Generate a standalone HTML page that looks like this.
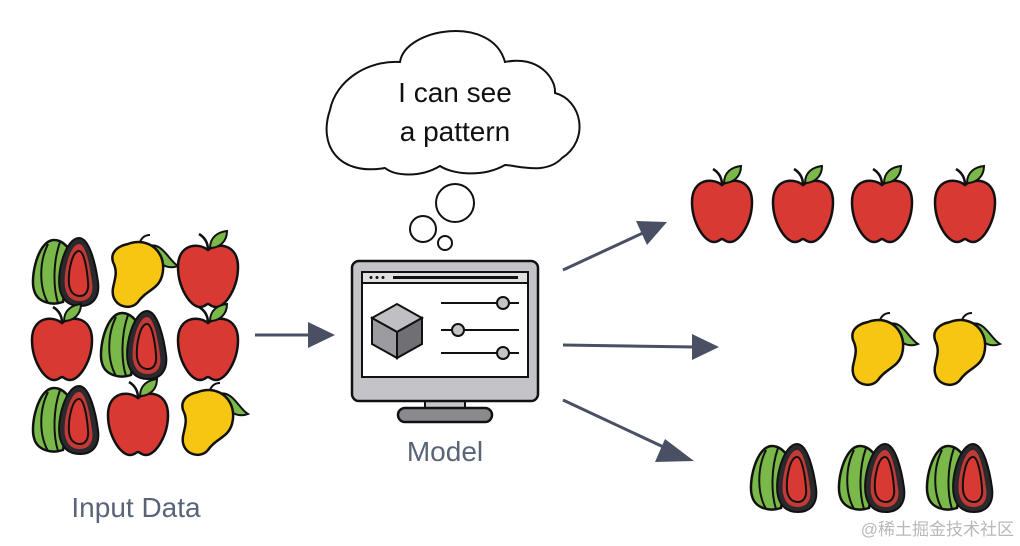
<!DOCTYPE html>
<html><head><meta charset="utf-8"><style>
html,body{margin:0;padding:0;background:#fff;}
svg{display:block;}
</style></head><body>
<svg width="1020" height="546" viewBox="0 0 1020 546" xmlns="http://www.w3.org/2000/svg">
<defs>
<g id="apple">
<path d="M0,-22 C-10,-30 -30,-28 -30,-5 C-30,15 -18,35 -8,35 C-3,35 -2,32 0,32 C2,32 3,35 8,35 C18,35 30,15 30,-5 C30,-28 10,-30 0,-22 Z" fill="#d83a33" stroke="#111" stroke-width="2.5"/>
<path d="M0,-22 C0,-30 -4,-35 -9,-38" fill="none" stroke="#111" stroke-width="2.5"/>
<path d="M2,-24 C2,-35 10,-40 19,-41 C19,-30 11,-24 2,-24Z" fill="#7bb84a" stroke="#111" stroke-width="2"/>
</g>
<g id="mango">
<path d="M10,-26 C25,-30 30,-12 40,-6 C30,-2 20,-8 15,-18Z" fill="#7bb84a" stroke="#111" stroke-width="2"/>
<path d="M-10,-28 C12,-36 30,-18 24,4 C20,18 8,18 0,30 C-8,40 -28,34 -25,16 C-23,6 -20,0 -25,-10 C-28,-20 -20,-26 -10,-28Z" fill="#f6c612" stroke="#111" stroke-width="2.5"/>
<path d="M2,-30 C4,-35 8,-37 12,-37" fill="none" stroke="#111" stroke-width="2"/>
</g>
<g id="avo">
<path d="M-12,-32 C-28,-32 -36,5 -32,18 C-29,30 -15,34 -3,30 L5,-20 C0,-28 -6,-32 -12,-32Z" fill="#7bb84a" stroke="#111" stroke-width="2.5"/>
<path d="M-18,-28 C-27,-10 -27,15 -18,31 M-6,-30 C-13,-10 -13,15 -8,31" fill="none" stroke="#111" stroke-width="2"/>
<path d="M13,-34 C0,-34 -10,0 -6,18 C-3,30 5,34 14,34 C27,34 34,25 32,10 C30,-5 24,-34 13,-34Z" fill="#2a2a2e" stroke="#111" stroke-width="2"/>
<path d="M13,-28 C4,-28 -3,0 -1,15 C1,25 6,29 14,29 C23,29 28,22 26,10 C24,-5 20,-28 13,-28Z" fill="#c23a35"/>
<path d="M13,-21 C6,-21 2,0 3,12 C4,20 8,24 14,24 C20,24 23,18 22,10 C21,-3 18,-21 13,-21Z" fill="#d83a33" stroke="#111" stroke-width="2"/>
</g>
</defs>

<use href="#avo" x="66" y="272"/>
<use href="#mango" x="138" y="272"/>
<use href="#apple" x="208" y="272"/>
<use href="#apple" x="62" y="345"/>
<use href="#avo" x="134" y="345"/>
<use href="#apple" x="208" y="345"/>
<use href="#avo" x="66" y="420"/>
<use href="#apple" x="138" y="420"/>
<use href="#mango" x="208" y="420"/>
<text x="136" y="517" font-family="Liberation Sans, sans-serif" font-size="28" fill="#5a6478" text-anchor="middle">Input Data</text>

<g stroke="#4a5064" stroke-width="3" fill="#4a5064">
<line x1="255" y1="335" x2="315" y2="335"/>
<polygon points="335,335 308,322 308,348" stroke="none"/>
<line x1="563" y1="270" x2="645" y2="232"/>
<polygon points="667,222 636,221 647,245" stroke="none"/>
<line x1="563" y1="345" x2="695" y2="347"/>
<polygon points="719,347 692,334 692,360" stroke="none"/>
<line x1="563" y1="400" x2="672" y2="451"/>
<polygon points="694,461 665,439 655,462" stroke="none"/>
</g>

<path d="M400,62 C405,28 492,14 505,62 C538,55 556,78 555,93 C582,100 590,140 562,158 C546,175 520,166 505,165 C482,178 452,174 440,166 C420,178 395,176 385,168 C338,176 318,145 330,110 C336,80 368,60 400,62 Z" fill="#fff" stroke="#111" stroke-width="2"/>
<text x="455" y="102" font-family="Liberation Sans, sans-serif" font-size="28" fill="#111" text-anchor="middle">I can see</text>
<text x="455" y="141" font-family="Liberation Sans, sans-serif" font-size="28" fill="#111" text-anchor="middle">a pattern</text>
<circle cx="455" cy="203" r="19" fill="#fff" stroke="#111" stroke-width="2"/>
<circle cx="423" cy="229" r="13" fill="#fff" stroke="#111" stroke-width="2"/>
<circle cx="445" cy="243" r="7" fill="#fff" stroke="#111" stroke-width="2"/>

<rect x="425" y="398" width="40" height="12" fill="#c8c8cc" stroke="#111" stroke-width="2"/>
<rect x="398" y="408" width="94" height="14" rx="7" fill="#8a8a8e" stroke="#111" stroke-width="2.5"/>
<rect x="352" y="261" width="186" height="140" rx="7" fill="#c4c4c8" stroke="#111" stroke-width="2.5"/>
<rect x="362" y="272" width="166" height="105" fill="#fff" stroke="#111" stroke-width="2"/>
<rect x="362" y="272" width="166" height="11" fill="#e0e0e0" stroke="#111" stroke-width="2"/>
<line x1="393" y1="277.5" x2="518" y2="277.5" stroke="#111" stroke-width="3"/>
<circle cx="371" cy="277.5" r="1.5" fill="#111"/><circle cx="377" cy="277.5" r="1.5" fill="#111"/><circle cx="383" cy="277.5" r="1.5" fill="#111"/>
<polygon points="372,318 397,304 422,318 397,332" fill="#c0c0c4" stroke="#111" stroke-width="2"/>
<polygon points="372,318 397,332 397,358 372,344" fill="#9c9ca0" stroke="#111" stroke-width="2"/>
<polygon points="397,332 422,318 422,344 397,358" fill="#707074" stroke="#111" stroke-width="2"/>
<g stroke="#111" stroke-width="2">
<line x1="441" y1="303" x2="519" y2="303"/>
<line x1="441" y1="330" x2="519" y2="330"/>
<line x1="441" y1="353" x2="519" y2="353"/>
<circle cx="503" cy="303" r="6" fill="#c4c4c8"/>
<circle cx="458" cy="330" r="6" fill="#c4c4c8"/>
<circle cx="503" cy="353" r="6" fill="#c4c4c8"/>
</g>
<text x="445" y="461" font-family="Liberation Sans, sans-serif" font-size="28" fill="#5a6478" text-anchor="middle">Model</text>

<use href="#apple" x="722" y="207"/>
<use href="#apple" x="803" y="207"/>
<use href="#apple" x="882" y="207"/>
<use href="#apple" x="965" y="207"/>
<use href="#mango" x="878" y="350"/>
<use href="#mango" x="960" y="350"/>
<use href="#avo" x="784" y="478"/>
<use href="#avo" x="872" y="478"/>
<use href="#avo" x="960" y="478"/>

<text x="1014" y="535" font-family="Liberation Sans, 'Noto Sans CJK SC', sans-serif" font-size="17" fill="#b8b8bc" text-anchor="end">@稀土掘金技术社区</text>
</svg>
</body></html>
